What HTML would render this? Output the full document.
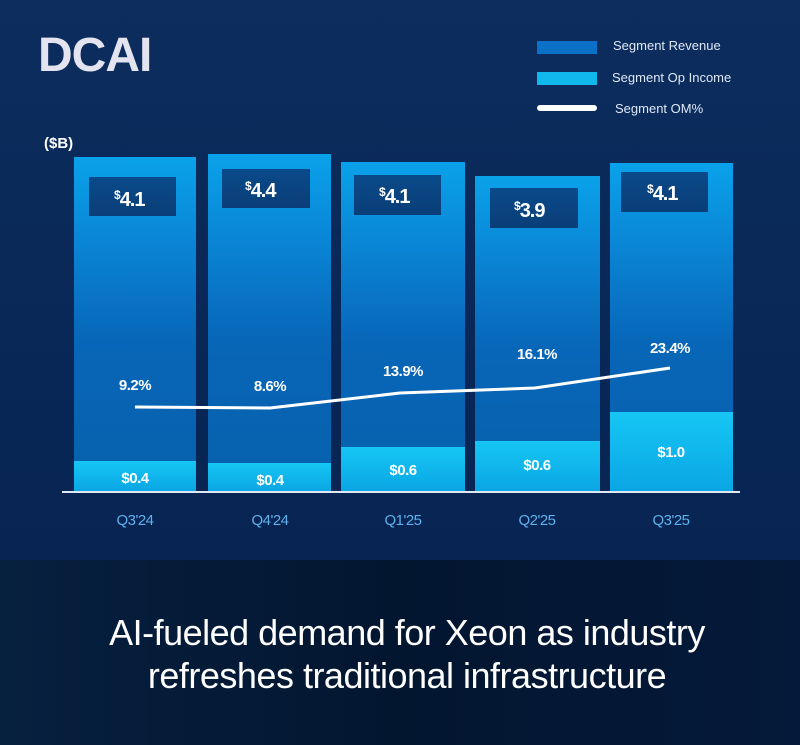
<!DOCTYPE html>
<html><head><meta charset="utf-8"><style>
html,body{margin:0;padding:0;width:800px;height:745px;overflow:hidden;background:#04183a}
svg{display:block}
text{font-family:"Liberation Sans",sans-serif}
</style></head><body>
<svg width="800" height="745" viewBox="0 0 800 745">
<defs>
<linearGradient id="bg" x1="0" y1="0" x2="0" y2="1">
<stop offset="0" stop-color="#0c2d5e"/><stop offset="1" stop-color="#072452"/></linearGradient>
<linearGradient id="bot" x1="0" y1="0" x2="1" y2="0">
<stop offset="0" stop-color="#06203f"/><stop offset="0.5" stop-color="#031630"/><stop offset="1" stop-color="#05193a"/></linearGradient>
<linearGradient id="rev" x1="0" y1="0" x2="0" y2="1">
<stop offset="0" stop-color="#0aa2ea"/><stop offset="0.25" stop-color="#0a86d6"/><stop offset="0.55" stop-color="#0866b8"/><stop offset="1" stop-color="#0760ac"/></linearGradient>
<linearGradient id="op" x1="0" y1="0" x2="0" y2="1">
<stop offset="0" stop-color="#16c6f4"/><stop offset="1" stop-color="#0aa6e4"/></linearGradient>
<linearGradient id="box" x1="0" y1="0" x2="0" y2="1">
<stop offset="0" stop-color="#0a4a8a"/><stop offset="1" stop-color="#0a3e78"/></linearGradient>
</defs>
<rect width="800" height="560" fill="url(#bg)"/>
<rect y="560" width="800" height="185" fill="url(#bot)"/>
<text x="38" y="71" font-size="48" fill="#e4e4f0" font-weight="bold" letter-spacing="-1">DCAI</text>
<rect x="537" y="41" width="60" height="13" fill="#0a70c8"/>
<rect x="537" y="72" width="60" height="13" fill="#10b8ee"/>
<rect x="537" y="105" width="60" height="6" rx="3" fill="#fff"/>
<g font-size="13" fill="#dfe8f5">
<text x="613" y="50">Segment Revenue</text>
<text x="612" y="82">Segment Op Income</text>
<text x="615" y="113">Segment OM%</text>
</g>
<text x="44" y="148" font-size="15" fill="#fff" font-weight="bold">($B)</text>
<g>
<rect x="74" y="157" width="122" height="334" fill="url(#rev)"/>
<rect x="208" y="154" width="123" height="337" fill="url(#rev)"/>
<rect x="341" y="162" width="124" height="329" fill="url(#rev)"/>
<rect x="475" y="176" width="125" height="315" fill="url(#rev)"/>
<rect x="610" y="163" width="123" height="328" fill="url(#rev)"/>
<rect x="74" y="461" width="122" height="30" fill="url(#op)"/>
<rect x="208" y="463" width="123" height="28" fill="url(#op)"/>
<rect x="341" y="447" width="124" height="44" fill="url(#op)"/>
<rect x="475" y="441" width="125" height="50" fill="url(#op)"/>
<rect x="610" y="412" width="123" height="79" fill="url(#op)"/>
</g>
<g fill="url(#box)">
<rect x="89" y="177" width="87" height="39"/>
<rect x="222" y="169" width="88" height="39"/>
<rect x="354" y="175" width="87" height="40"/>
<rect x="490" y="188" width="88" height="40"/>
<rect x="621" y="172" width="87" height="40"/>
</g>
<g font-size="20" fill="#fff" font-weight="bold" letter-spacing="-1">
<text x="114" y="206"><tspan font-size="12" dy="-7">$</tspan><tspan dy="7">4.1</tspan></text>
<text x="245" y="197"><tspan font-size="12" dy="-7">$</tspan><tspan dy="7">4.4</tspan></text>
<text x="379" y="203"><tspan font-size="12" dy="-7">$</tspan><tspan dy="7">4.1</tspan></text>
<text x="514" y="217"><tspan font-size="12" dy="-7">$</tspan><tspan dy="7">3.9</tspan></text>
<text x="647" y="200"><tspan font-size="12" dy="-7">$</tspan><tspan dy="7">4.1</tspan></text>
</g>
<line x1="62" y1="492" x2="740" y2="492" stroke="#dfe8f5" stroke-width="2"/>
<polyline points="135,407 270,408 400,393 535,388 670,368" fill="none" stroke="#fff" stroke-width="3" stroke-linejoin="round"/>
<g font-size="15" fill="#fff" font-weight="bold" text-anchor="middle" letter-spacing="-0.5">
<text x="135" y="390">9.2%</text>
<text x="270" y="391">8.6%</text>
<text x="403" y="376">13.9%</text>
<text x="537" y="359">16.1%</text>
<text x="670" y="353">23.4%</text>
<text x="135" y="483">$0.4</text>
<text x="270" y="485">$0.4</text>
<text x="403" y="475">$0.6</text>
<text x="537" y="470">$0.6</text>
<text x="671" y="457">$1.0</text>
</g>
<g font-size="15" fill="#5fb2ee" text-anchor="middle" letter-spacing="-0.5">
<text x="135" y="525">Q3'24</text>
<text x="270" y="525">Q4'24</text>
<text x="403" y="525">Q1'25</text>
<text x="537" y="525">Q2'25</text>
<text x="671" y="525">Q3'25</text>
</g>
<g font-size="36" fill="#fff" text-anchor="middle" letter-spacing="-0.5">
<text x="407" y="645">AI-fueled demand for Xeon as industry</text>
<text x="407" y="688">refreshes traditional infrastructure</text>
</g>
</svg>
</body></html>
